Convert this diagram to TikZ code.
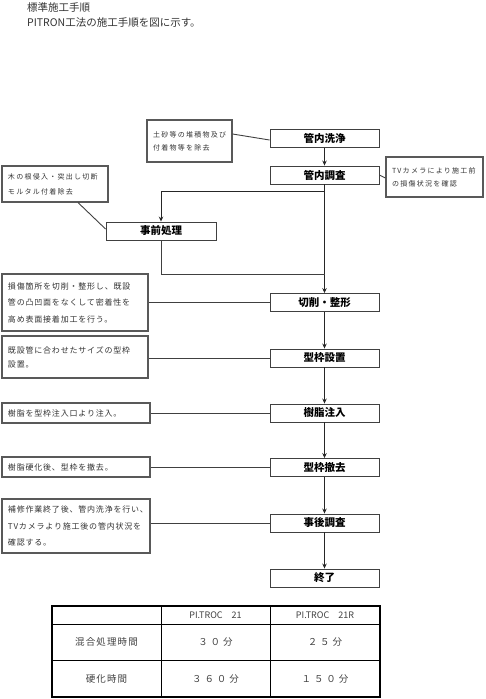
\documentclass[tikz,border=0pt]{standalone}
\usepackage{fontspec}
\setmainfont{Noto Sans CJK JP}
\newfontfamily\jpls[LetterSpace=10]{Noto Sans CJK JP}
\newfontfamily\jplss[LetterSpace=18]{Noto Sans CJK JP}
\newfontfamily\jptab[LetterSpace=12]{Noto Sans CJK JP}
\newfontfamily\jpnum[LetterSpace=30]{Noto Sans CJK JP}
\usetikzlibrary{arrows.meta}
\begin{document}
\begin{tikzpicture}[x=1pt,y=-1pt,
  stepbox/.style={draw=black!75, line width=0.9pt, minimum width=109pt, minimum height=18pt, inner sep=0pt, fill=white,
    font=\fontsize{10.5}{12}\selectfont\bfseries},
  notebox/.style={draw=black!65, line width=1.1pt, align=left, inner xsep=6pt, inner ysep=0pt, fill=white, text=black!80,
    font=\jpls\fontsize{8}{16.5}\selectfont},
  topnote/.style={notebox, font=\jplss\fontsize{7}{13}\selectfont},
  titletext/.style={anchor=west, inner sep=0pt, text=black!80, font=\fontsize{10.5}{12}\selectfont},
  arr/.style={-{Stealth[length=5pt,width=4.5pt]}, line width=0.9pt, draw=black!85},
  ln/.style={line width=0.9pt, draw=black!75},
  tab/.style={text=black!75, font=\jptab\fontsize{9.5}{11}\selectfont},
  tabnum/.style={text=black!75, font=\jpnum\fontsize{9.5}{11}\selectfont},
  tabhead/.style={text=black!75, font=\fontsize{9}{11}\selectfont}]
\useasboundingbox (0,0) rectangle (486,699);

% title
\node[titletext] (t1) at (27,7) {標準施工手順};
\node[titletext] (t2) at (27,23) {PITRON工法の施工手順を図に示す。};

% main steps
\node[stepbox] (s1) at (324.5,138.5) {管内洗浄};
\node[stepbox] (s2) at (324.5,175) {管内調査};
\node[stepbox, minimum width=110pt] (s0) at (161,231) {事前処理};
\node[stepbox] (s3) at (324.5,302.5) {切削・整形};
\node[stepbox] (s4) at (324.5,358) {型枠設置};
\node[stepbox] (s5) at (324.5,413) {樹脂注入};
\node[stepbox] (s6) at (324.5,467.5) {型枠撤去};
\node[stepbox] (s7) at (324.5,523) {事後調査};
\node[stepbox] (s8) at (324.5,578) {終了};

% notes
\node[topnote, text width=73pt, minimum height=42pt] (n1) at (189.5,141) {土砂等の堆積物及び\\付着物等を除去};
\node[topnote, text width=85pt, minimum height=40pt] (n2) at (434.5,177) {TVカメラにより施工前\\の損傷状況を確認};
\node[topnote, font=\jplss\fontsize{7}{15}\selectfont, text width=94pt, minimum height=36pt] (n0) at (55,184) {木の根侵入・突出し切断\\モルタル付着除去};
\node[notebox, text width=134pt, minimum height=57pt] (n3) at (75,302.5) {損傷箇所を切削・整形し、既設\\管の凸凹面をなくして密着性を\\高め表面接着加工を行う。};
\node[notebox, font=\jpls\fontsize{8}{14}\selectfont, text width=134pt, minimum height=42pt] (n4) at (75,357) {既設管に合わせたサイズの型枠\\設置。};
\node[notebox, text width=136pt, minimum height=20pt] (n5) at (76,413) {樹脂を型枠注入口より注入。};
\node[notebox, text width=136pt, minimum height=20pt] (n6) at (76,467) {樹脂硬化後、型枠を撤去。};
\node[notebox, text width=136pt, minimum height=54pt] (n7) at (76,526) {補修作業終了後、管内洗浄を行い、\\TVカメラより施工後の管内状況を\\確認する。};

% flow connectors
\coordinate (b1) at (324.5,191);
\coordinate (b2) at (324.5,274);
\draw[arr] (s1) -- (s2);
\draw[arr] (s2) -- (s3);
\draw[arr] (b1) -| (s0);
\draw[ln] (s0.south) |- (b2);
\draw[arr] (s3) -- (s4);
\draw[arr] (s4) -- (s5);
\draw[arr] (s5) -- (s6);
\draw[arr] (s6) -- (s7);
\draw[arr] (s7) -- (s8);

% note connectors
\draw[ln] ([yshift=7pt]n1.east) -- ([yshift=-1.5pt]s1.west);
\draw[ln] (s2.east) -- ([yshift=-1pt]n2.west);
\draw[ln] ([xshift=23pt]n0.south) -- ([yshift=2pt]s0.west);
\draw[ln] (s3.west) -- (s3.west -| n3.east);
\draw[ln] (s4.west) -- (s4.west -| n4.east);
\draw[ln] (s5.west) -- (s5.west -| n5.east);
\draw[ln] (s6.west) -- (s6.west -| n6.east);
\draw[ln] (s7.west) -- (s7.west -| n7.east);

% table
\draw[line width=0.8pt] (161,606) -- (161,697) (270,606) -- (270,697)
  (52,624) -- (380,624) (52,660) -- (380,660);
\draw[line width=2pt] (52,606) rectangle (380,697);
\node[tabhead] (h1) at (215.5,615) {PI.TROC　21};
\node[tabhead] (h2) at (325,615) {PI.TROC　21R};
\node[tab] (r1) at (106.5,642) {混合処理時間};
\node[tabnum] (c11) at (215.5,642) {３０分};
\node[tabnum] (c12) at (325,642) {２５分};
\node[tab] (r2) at (106.5,679) {硬化時間};
\node[tabnum] (c21) at (215.5,679) {３６０分};
\node[tabnum] (c22) at (325,679) {１５０分};
\end{tikzpicture}
\end{document}
